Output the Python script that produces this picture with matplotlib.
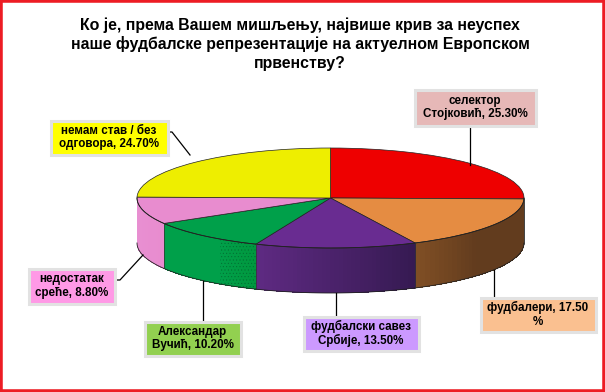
import matplotlib
matplotlib.use('Agg')
import matplotlib.pyplot as plt
import numpy as np
from matplotlib.colors import to_rgb
from matplotlib.patches import Rectangle
from matplotlib.transforms import Affine2D

plt.rcParams['font.family'] = ['Liberation Sans', 'DejaVu Sans']
plt.rcParams['hatch.linewidth'] = 0.3

title = ('Ко је, према Вашем мишљењу, највише крив за неуспех\n'
         'наше фудбалске репрезентације на актуелном Европском\n'
         'првенству?')

names = ['селектор\nСтојковић, 25.30%', 'фудбалери, 17.50\n%',
         'фудбалски савез\nСрбије, 13.50%', 'Александар\nВучић, 10.20%',
         'недостатак\nсреће, 8.80%', 'немам став / без\nодговора, 24.70%']
values = [25.3, 17.5, 13.5, 10.2, 8.8, 24.7]
top_colors = ['#ee0000', '#e58c42', '#692c91', '#00a04a', '#e88ccf', '#eeee00']
# wall colours at the screen-left and screen-right end of each slice
wall_left = ['#7a0000', '#7f4e24', '#5e2a82', '#00a04a', '#e890d2', '#eeee00']
wall_right = ['#7a0000', '#623c1e', '#361a52', '#00983f', '#e88ccf', '#eeee00']
# part of the slice (from screen left) over which the colour changes
ramp_start = [0, 0, 0, 0.65, 0, 0]
ramp_end = [1, 0.35, 1, 1, 1, 1]
box_colors = ['#e6b8b7', '#fac090', '#cc99ff', '#92d050', '#ff99e6', '#ffff00']

# label boxes: left, top, right, bottom in pixels
boxes = [(416, 91, 534, 124), (482, 299, 594, 330), (305, 318, 417, 349),
         (146, 323, 239, 354), (30, 270, 113, 302), (52, 122, 166, 153)]
leaders = [([470, 470], [124, 165]), ([494, 494], [270, 299]),
           ([336, 336], [293, 318]), ([203, 203], [281, 323]),
           ([113, 120, 143], [280, 280, 255]), ([166, 172, 190], [132, 132, 155])]

cx, cy, rx, ry, depth = 330.5, 198, 193.5, 50, 45

fig = plt.figure(figsize=(6.05, 3.92), dpi=100)
ax = fig.add_axes([0, 0, 1, 1])

# side walls, front half only
edges = np.concatenate([[0], np.cumsum(values)]) / np.sum(values) * 2 * np.pi
for i in range(len(values)):
    a0 = max(edges[i], np.pi / 2)
    a1 = min(edges[i + 1], 3 * np.pi / 2)
    if a1 <= a0:
        continue
    cuts = np.linspace(a0, a1, 40)
    c_left = np.array(to_rgb(wall_left[i]))
    c_right = np.array(to_rgb(wall_right[i]))
    for j in range(len(cuts) - 1):
        t = np.linspace(cuts[j], cuts[j + 1] + 0.01, 4)
        xs = cx + rx * np.sin(t)
        ys = cy - ry * np.cos(t)
        # the angle grows from screen right to screen left
        pos = 1 - j / (len(cuts) - 2)
        mix = np.clip((pos - ramp_start[i]) / (ramp_end[i] - ramp_start[i]), 0, 1)
        ax.fill(np.r_[xs, xs[::-1]], np.r_[ys, ys[::-1] + depth],
                color=c_left * (1 - mix) + c_right * mix, lw=0, antialiased=False)
    if i == 3:
        # dotted part of the green wall
        t = np.linspace(a0, a0 + (a1 - a0) * 0.33, 20)
        xs = cx + rx * np.sin(t)
        ys = cy - ry * np.cos(t)
        ax.fill(np.r_[xs, xs[::-1]], np.r_[ys, ys[::-1] + depth], fc='none',
                ec='#006a30', hatch='.....', lw=0)
    t = np.linspace(a0, a1, 60)
    ax.plot(cx + rx * np.sin(t), cy - ry * np.cos(t) + depth, color='#222222', lw=0.6)
    ax.plot(cx + rx * np.sin(t), cy - ry * np.cos(t), color='#222222', lw=0.6)
    ax.plot([cx + rx * np.sin(a0)] * 2, [cy - ry * np.cos(a0), cy - ry * np.cos(a0) + depth],
            color='#333333', lw=0.5)

# top of the pie, squashed into an ellipse
wedges, _ = ax.pie(values, colors=top_colors, startangle=90, counterclock=False,
                   wedgeprops={'edgecolor': '#222222', 'linewidth': 0.5})
squash = Affine2D().scale(rx, -ry).translate(cx, cy) + ax.transData
for w in wedges:
    w.set_transform(squash)

ax.set_aspect('auto')
ax.set_xlim(0, 605)
ax.set_ylim(392, 0)
ax.axis('off')

for (lx, ly) in leaders:
    ax.plot(lx, ly, color='black', lw=0.9, zorder=5)

for name, box, col in zip(names, boxes, box_colors):
    x0, y0, x1, y1 = box
    ax.add_patch(Rectangle((x0 - 1.5, y0 - 1.5), x1 - x0 + 3, y1 - y0 + 3, fc=col, ec='#e2e2e2',
                           lw=2.2, zorder=6))
    ax.text((x0 + x1) / 2, (y0 + y1) / 2, name, ha='center', va='center', fontsize=8.4,
            fontweight='bold', linespacing=1.15, zorder=7)

ax.text(300, 44, title, ha='center', va='center', fontsize=11.4, fontweight='bold',
        linespacing=1.27)

fig.add_artist(Rectangle((0, 0), 1, 1, transform=fig.transFigure, fill=False,
                         ec='#ed1c24', lw=4))

fig.savefig('out.png', dpi=100)
